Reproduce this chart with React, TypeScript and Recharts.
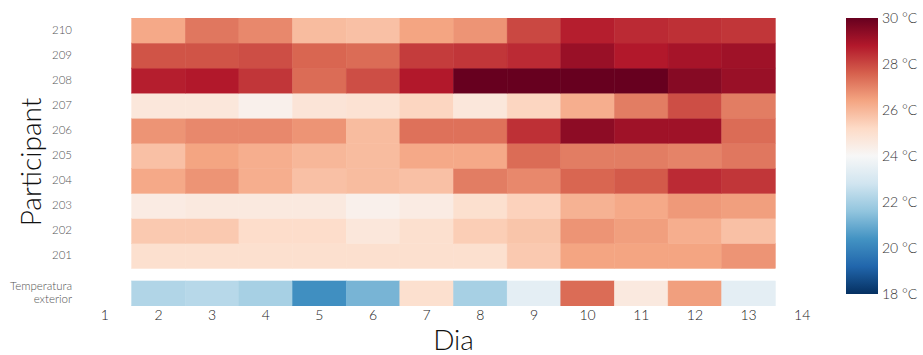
import React from "react";
import { ScatterChart, Scatter, XAxis, YAxis } from "recharts";

// days shown in the heatmap (axis runs 1..14)
const days = [2, 3, 4, 5, 6, 7, 8, 9, 10, 11, 12, 13];
const dayTicks = [1, 2, 3, 4, 5, 6, 7, 8, 9, 10, 11, 12, 13, 14];

const participants = ["201", "202", "203", "204", "205", "206", "207", "208", "209", "210"];

// mean temperature per participant and day (°C)
const p201 = [25.0, 25.0, 25.0, 25.0, 25.0, 25.0, 25.0, 25.6, 26.4, 26.4, 26.4, 26.7];
const p202 = [25.6, 25.6, 25.1, 25.1, 24.7, 25.0, 25.5, 25.7, 26.7, 26.5, 26.2, 25.8];
const p203 = [24.5, 24.6, 24.6, 24.6, 24.3, 24.5, 25.0, 25.4, 26.1, 26.3, 26.6, 26.5];
const p204 = [26.3, 26.7, 26.2, 25.8, 25.9, 25.8, 27.1, 26.9, 27.5, 27.7, 28.5, 28.3];
const p205 = [25.8, 26.4, 26.2, 26.0, 25.9, 26.3, 26.3, 27.4, 27.1, 27.1, 27.0, 27.2];
const p206 = [26.7, 26.9, 26.9, 26.7, 25.9, 27.3, 27.3, 28.4, 29.4, 29.1, 29.1, 27.4];
const p207 = [24.7, 24.7, 24.3, 24.8, 24.9, 25.3, 24.7, 25.3, 26.2, 27.1, 27.9, 27.1];
const p208 = [28.7, 28.8, 28.3, 27.4, 27.9, 28.8, 30.0, 30.0, 30.0, 30.0, 29.5, 29.2];
const p209 = [27.8, 27.8, 27.9, 27.5, 27.4, 28.2, 28.3, 28.5, 29.2, 28.8, 29.0, 29.1];
const p210 = [26.3, 27.2, 26.9, 25.9, 25.8, 26.4, 26.7, 28.0, 28.7, 28.5, 28.4, 28.3];
const exterior = [22.2, 22.3, 22.0, 20.3, 21.2, 25.0, 22.0, 23.4, 27.4, 24.6, 26.5, 23.4];

const participantValues = [p201, p202, p203, p204, p205, p206, p207, p208, p209, p210];

const colorTicks = [18, 20, 22, 24, 26, 28, 30];
const T_MIN = 18;
const T_MAX = 30;

// RdBu reversed
const RDBU = [
  "#053061", "#2166ac", "#4393c3", "#92c5de", "#d1e5f0", "#f7f7f7",
  "#fddbc7", "#f4a582", "#d6604d", "#b2182b", "#67001f",
];

function hex(c: string) {
  return [1, 3, 5].map((i) => parseInt(c.slice(i, i + 2), 16));
}

function tempColor(v: number) {
  const t = Math.min(1, Math.max(0, (v - T_MIN) / (T_MAX - T_MIN))) * (RDBU.length - 1);
  const i = Math.min(RDBU.length - 2, Math.floor(t));
  const f = t - i;
  const a = hex(RDBU[i]);
  const b = hex(RDBU[i + 1]);
  const m = a.map((x, k) => Math.round(x + (b[k] - x) * f));
  return `rgb(${m[0]},${m[1]},${m[2]})`;
}

// row positions on the numeric y axis; exterior row sits apart below
const EXT_ROW = 0;
const rowOf = (i: number) => i + 1.5;

const cellData = participantValues.flatMap((vals, i) =>
  vals.map((v, j) => ({ day: days[j], row: rowOf(i), value: v }))
);
const extData = exterior.map((v, j) => ({ day: days[j], row: EXT_ROW, value: v }));

const W = 923;
const H = 355;
const M = { top: 18, right: 94, bottom: 0, left: 18 };
const Y_W = 60;
const X_H = 49;
const X_DOM: [number, number] = [0.5, 14.5];
const Y_DOM: [number, number] = [-0.5, 11];
const CELL_W = (W - M.left - M.right - Y_W) / (X_DOM[1] - X_DOM[0]);
const CELL_H = (H - M.top - M.bottom - X_H) / (Y_DOM[1] - Y_DOM[0]);

const yTicks = [EXT_ROW, ...participants.map((_, i) => rowOf(i))];

const FONT = "Lato, 'Open Sans', sans-serif";

function Cell(props: any) {
  const { cx, cy, payload } = props;
  const c = tempColor(payload.value);
  return (
    <rect
      x={cx - CELL_W / 2}
      y={cy - CELL_H / 2}
      width={CELL_W}
      height={CELL_H}
      fill={c}
      stroke={c}
      strokeWidth={0.5}
    />
  );
}

function YTick(props: any) {
  const { x, y, payload } = props;
  if (payload.value === EXT_ROW) {
    return (
      <text x={x} y={y} textAnchor="end" fontSize={11.5} fill="#555" fontFamily={FONT} fontWeight={300}>
        <tspan x={x} dy={-3}>Temperatura</tspan>
        <tspan x={x} dy={13}>exterior</tspan>
      </text>
    );
  }
  const idx = Math.round(payload.value - 1.5);
  return (
    <text x={x} y={y} dy={3} textAnchor="end" fontSize={11.5} fill="#555" fontFamily={FONT} fontWeight={300}>
      {participants[idx]}
    </text>
  );
}

function ColorBar() {
  const x = 846;
  const y0 = 18;
  const y1 = 294;
  const pos = (t: number) => y1 - ((t - T_MIN) / (T_MAX - T_MIN)) * (y1 - y0);
  return (
    <svg width={W} height={H} style={{ position: "absolute", left: 0, top: 0, pointerEvents: "none" }}>
      <defs>
        <linearGradient id="cbar" x1="0" y1="0" x2="0" y2="1">
          {RDBU.slice()
            .reverse()
            .map((c, i) => (
              <stop key={i} offset={`${(i / (RDBU.length - 1)) * 100}%`} stopColor={c} />
            ))}
        </linearGradient>
      </defs>
      <rect x={x} y={y0} width={32} height={y1 - y0} fill="url(#cbar)" />
      {colorTicks.map((t) => (
        <text
          key={t}
          x={x + 36}
          y={pos(t)}
          dy={5}
          fontSize={14}
          fill="#333"
          fontFamily={FONT}
          fontWeight={300}
        >
          {`${t} °C`}
        </text>
      ))}
    </svg>
  );
}

export default function App() {
  return (
    <div style={{ position: "absolute", left: 0, top: 0, width: W, height: H, background: "#fff" }}>
      <ScatterChart width={W} height={H} margin={M}>
        <XAxis
          type="number"
          dataKey="day"
          domain={X_DOM}
          ticks={dayTicks}
          allowDataOverflow
          axisLine={false}
          tickLine={false}
          tickSize={0}
          tickMargin={4}
          height={X_H}
          tick={{ fontSize: 14, fill: "#222", fontFamily: FONT, fontWeight: 300 }}
          label={{
            content: (p: any) => (
              <text
                x={p.viewBox.x + p.viewBox.width / 2}
                y={p.viewBox.y + 44}
                textAnchor="middle"
                fontSize={28}
                fill="#111"
                fontFamily={FONT}
                fontWeight={300}
              >
                Dia
              </text>
            ),
          }}
        />
        <YAxis
          type="number"
          dataKey="row"
          domain={Y_DOM}
          ticks={yTicks}
          allowDataOverflow
          axisLine={false}
          tickLine={false}
          tickSize={0}
          tickMargin={6}
          width={Y_W}
          tick={<YTick />}
          label={{
            content: (p: any) => {
              const lx = p.viewBox.x + 12;
              const ly = p.viewBox.y + p.viewBox.height / 2;
              return (
                <text
                  x={lx}
                  y={ly}
                  transform={`rotate(-90, ${lx}, ${ly})`}
                  textAnchor="middle"
                  dominantBaseline="central"
                  fontSize={28}
                  fill="#111"
                  fontFamily={FONT}
                  fontWeight={300}
                >
                  Participant
                </text>
              );
            },
          }}
        />
        <Scatter data={cellData} shape={<Cell />} isAnimationActive={false} />
        <Scatter data={extData} shape={<Cell />} isAnimationActive={false} />
      </ScatterChart>
      <ColorBar />
    </div>
  );
}
